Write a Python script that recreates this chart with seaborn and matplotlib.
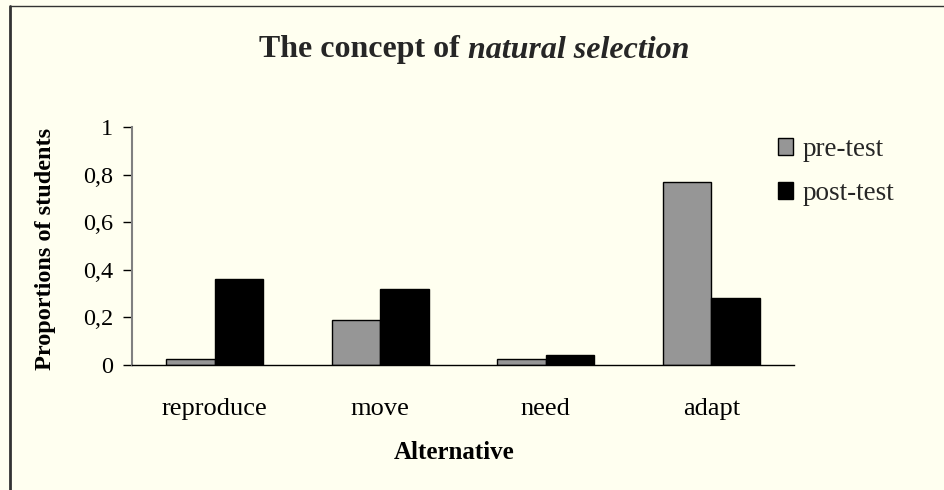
import matplotlib
matplotlib.use("Agg")
import matplotlib.pyplot as plt
import seaborn as sns
import pandas as pd
from matplotlib.ticker import FixedLocator, FuncFormatter

categories = ["reproduce", "move", "need", "adapt"]
pre_test = [0.026, 0.19, 0.026, 0.77]
post_test = [0.36, 0.32, 0.043, 0.28]
series_names = ["pre-test", "post-test"]
y_ticks = [0, 0.2, 0.4, 0.6, 0.8, 1.0]

df = pd.DataFrame({
    "Alternative": categories * 2,
    "value": pre_test + post_test,
    "series": [series_names[0]] * len(categories) + [series_names[1]] * len(categories),
})

sns.set_theme(style="white")
plt.rcParams["font.family"] = ["Liberation Serif", "DejaVu Serif"]

bg = "#FFFFF0"
fig = plt.figure(figsize=(9.44, 4.9), dpi=100, facecolor=bg)
ax = fig.add_axes([132 / 944, 1 - 365 / 490, (794 - 132) / 944, (365 - 127) / 490])
ax.set_facecolor(bg)

sns.barplot(data=df, x="Alternative", y="value", hue="series", ax=ax,
            palette={"pre-test": "#969696", "post-test": "#000000"},
            width=0.585, gap=0, errorbar=None, edgecolor="black", linewidth=1,
            saturation=1)

ax.set_xlim(-0.5, 3.5)
ax.set_ylim(0, 1)
ax.yaxis.set_major_locator(FixedLocator(y_ticks))
ax.yaxis.set_major_formatter(FuncFormatter(lambda v, p: ("%g" % round(v, 1)).replace(".", ",")))
ax.set_xticks(range(len(categories)))
ax.set_xticklabels(categories)
ax.set_xticks([-0.5, 0.5, 1.5, 2.5, 3.5], minor=True)
ax.tick_params(axis="x", which="major", length=0, pad=24, labelsize=19, colors="black")
ax.tick_params(axis="x", which="minor", length=6, width=1, color="#555555", direction="out")
ax.tick_params(axis="y", which="major", length=6.5, width=1, direction="out", color="black",
               labelsize=17.5, pad=7, labelcolor="black", left=True)

for s in ["top", "right"]:
    ax.spines[s].set_visible(False)
ax.spines["left"].set_color("#808080")
ax.spines["left"].set_linewidth(1.5)
ax.spines["bottom"].set_color("black")
ax.spines["bottom"].set_linewidth(1)

ax.set_xlabel("Alternative", fontsize=18, fontweight="bold", color="black")
ax.set_ylabel("Proportions of students", fontsize=17.5, fontweight="bold", color="black")
ax.xaxis.set_label_coords(0.5 - (472 - 463) / 662, -(452 - 365) / 238)
ax.yaxis.set_label_coords(-(132 - 46) / 662, 0.5 - (246 - 243) / 238)
ax.xaxis.label.set_va("center")
ax.yaxis.label.set_va("center")

leg = ax.legend(loc="upper left", bbox_to_anchor=(778 / 944, 1 - 137 / 490),
                bbox_transform=fig.transFigure, frameon=False, fontsize=19.5,
                handlelength=0.55, handleheight=0.55, handletextpad=0.35, labelspacing=0.7,
                borderaxespad=0, borderpad=0)
for h in leg.legend_handles:
    h.set_edgecolor("black")
    h.set_linewidth(1)

# figure border (left & top)
fig.add_artist(plt.Line2D([10 / 944, 10 / 944], [0, 1 - 6 / 490], transform=fig.transFigure,
                          color="#333333", linewidth=2))
fig.add_artist(plt.Line2D([10 / 944, 1], [1 - 6 / 490, 1 - 6 / 490], transform=fig.transFigure,
                          color="#333333", linewidth=1))

# Title with italic part
fig.canvas.draw()
r = fig.canvas.get_renderer()
ty = 1 - 50 / 490
t1 = fig.text(0, ty, "The concept of ", fontsize=23, fontweight="bold", va="center", ha="left")
t2 = fig.text(0, ty, "natural selection", fontsize=23, fontweight="bold", style="italic",
              va="center", ha="left")
w1 = t1.get_window_extent(r).width
w2 = t2.get_window_extent(r).width
start = 474 - (w1 + w2) / 2
t1.set_x(start / 944)
t2.set_x((start + w1) / 944)

fig.savefig("out.png", dpi=100, facecolor=bg)
